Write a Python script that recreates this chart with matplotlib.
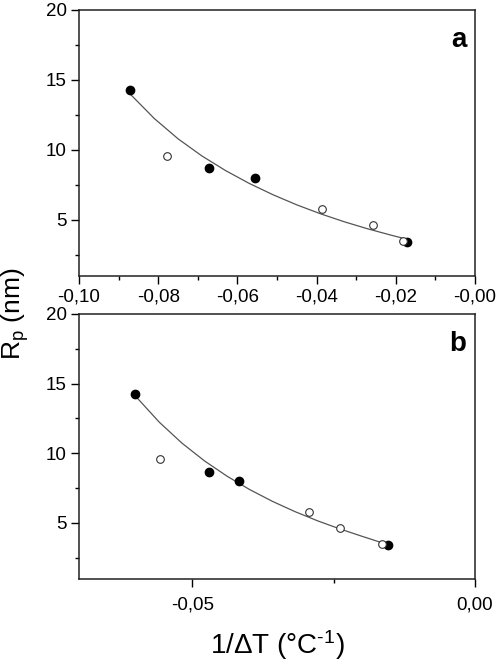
import matplotlib
matplotlib.use("Agg")
import matplotlib.pyplot as plt
import numpy as np
from matplotlib.ticker import MultipleLocator, FuncFormatter

plt.rcParams['font.family'] = ['Liberation Sans', 'DejaVu Sans']
plt.rcParams['mathtext.fontset'] = 'custom'
plt.rcParams['mathtext.rm'] = 'Liberation Sans'
plt.rcParams['mathtext.it'] = 'Liberation Sans:italic'

# datos
rp_lleno = [14.25, 8.68, 8.0, 3.40]      # puntos negros
rp_vacio = [9.56, 5.75, 4.66, 3.48]      # puntos blancos

# panel a
xa_lleno = [-0.0871, -0.0673, -0.0555, -0.0172]
xa_vacio = [-0.0777, -0.0386, -0.0258, -0.0183]
xa_curva = [-0.0871, -0.081, -0.075, -0.069, -0.063, -0.057, -0.051,
            -0.045, -0.039, -0.033, -0.027, -0.021, -0.0185]
ya_curva = [14.0, 12.25, 10.8, 9.58, 8.53, 7.61, 6.80,
            6.08, 5.44, 4.87, 4.36, 3.90, 3.72]

# panel b
xb_curva = [-0.0598, -0.0558, -0.0518, -0.0478, -0.0438, -0.0398,
            -0.0358, -0.0318, -0.0278, -0.0238, -0.0198, -0.0163]
yb_curva = [14.0, 12.22, 10.72, 9.44, 8.34, 7.38,
            6.54, 5.80, 5.14, 4.55, 4.01, 3.55]
xb_lleno = [-0.0601, -0.0471, -0.0418, -0.0154]
xb_vacio = [-0.0557, -0.0293, -0.0239, -0.0164]

coma = lambda fmt: FuncFormatter(lambda v, p: (fmt % v).replace('.', ','))


def panel(ax, xl, xv, xc, yc, letra):
    ax.plot(xc, yc, color='#555555', lw=0.9, zorder=2)
    ax.plot(xl, rp_lleno, 'o', color='black', ms=6, zorder=3)
    ax.plot(xv, rp_vacio, 'o', mfc='white', mec='#333333', mew=0.8, ms=5.5, zorder=4)
    ax.set_ylim(1, 20)
    ax.yaxis.set_major_locator(MultipleLocator(5))
    ax.yaxis.set_minor_locator(MultipleLocator(2.5))
    ax.yaxis.set_major_formatter(coma('%d'))
    ax.tick_params(which='major', direction='out', length=6, width=1, labelsize=13.5, pad=3,
                   top=False, right=False)
    ax.tick_params(which='minor', direction='out', length=3, width=1, top=False, right=False)
    for s in ax.spines.values():
        s.set_linewidth(1.1)
        s.set_color('#222222')
    ax.text(0.978, 0.86, letra, transform=ax.transAxes, ha='right', va='baseline',
            fontsize=20, fontweight='bold')


fig = plt.figure(figsize=(4.96, 6.65), dpi=100)
ax1 = fig.add_axes([0.1593, 0.585, 0.7984, 0.400])
ax2 = fig.add_axes([0.1593, 0.130, 0.7984, 0.398])

panel(ax1, xa_lleno, xa_vacio, xa_curva, ya_curva, 'a')
ax1.set_xlim(-0.10, 0.0)
ax1.xaxis.set_major_locator(MultipleLocator(0.02))
ax1.xaxis.set_minor_locator(MultipleLocator(0.01))
ax1.xaxis.set_major_formatter(coma('%.2f'))

panel(ax2, xb_lleno, xb_vacio, xb_curva, yb_curva, 'b')
ax2.set_xlim(-0.07, 0.0)
ax2.xaxis.set_major_locator(MultipleLocator(0.05))
ax2.xaxis.set_minor_locator(MultipleLocator(0.025))
ax2.xaxis.set_major_formatter(coma('%.2f'))
ax2.tick_params(axis='x', which='major', pad=7)

fig.text(0.03, 0.528, r'R$_\mathrm{p}$ (nm)', rotation=90, ha='center', va='center', fontsize=19)
fig.text(0.559, 0.03, r'1/$\mathrm{\Delta}$T (°C$^{\text{-1}}$)', ha='center', va='center', fontsize=20)

fig.savefig('out.png', dpi=100)
